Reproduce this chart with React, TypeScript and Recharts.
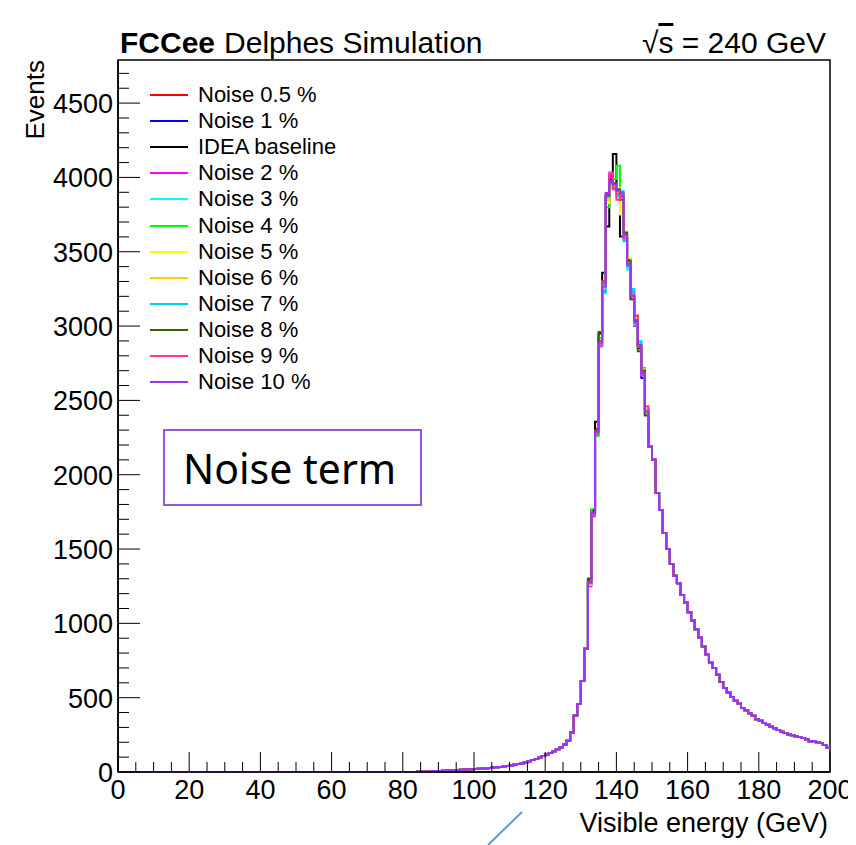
import { LineChart, Line, XAxis, YAxis, ReferenceArea } from "recharts";

// 1 GeV bins from 0 to 200
const binEdges = Array.from({ length: 201 }, (_, i) => i);

// shared part of all histograms (they overlap within a line width here)
const riseFirstBin = 84;
const riseCounts = [
  1, 2, 3, 4, 5, 6, 7, 8, 10, 11, 12, 14, 15, 17, 18, 19,
  21, 22, 24, 25, 27, 30, 32, 34, 37, 40, 44, 48, 53, 58, 64, 72,
  80, 88, 98, 108, 118, 128, 140, 153, 165, 185, 210, 265, 380, 458, 612, 830,
];
const peakFirstBin = 132;
const tailFirstBin = 149;
const tailCounts = [
  2189, 2100, 1877, 1763, 1608, 1500, 1400, 1320, 1270, 1190,
  1140, 1075, 1020, 960, 905, 845, 790, 735, 700, 655,
  605, 565, 535, 505, 480, 460, 430, 415, 395, 378,
  355, 345, 330, 318, 305, 295, 283, 270, 262, 252,
  248, 240, 235, 228, 220, 205, 208, 200, 195, 182,
  165,
];

// peak region, bins 132..148, one list per sample
const peakNoise05 = [1290, 1760, 2310, 2900, 3300, 3850, 4010, 3960, 3890, 3880, 3600, 3440, 3180, 3050, 2860, 2700, 2410];
const peakNoise1 = [1270, 1750, 2280, 2920, 3290, 3870, 3990, 3940, 3920, 3870, 3620, 3410, 3230, 3020, 2880, 2650, 2440];
const peakBaseline = [1300, 1760, 2357, 2950, 3358, 3670, 3980, 4157, 3910, 3602, 3590, 3450, 3190, 3070, 2850, 2690, 2400];
const peakNoise2 = [1250, 1720, 2270, 2870, 3240, 3880, 4020, 3930, 3890, 3880, 3630, 3400, 3210, 3000, 2890, 2670, 2430];
const peakNoise3 = [1260, 1730, 2300, 2860, 3220, 3860, 3950, 3960, 3870, 3910, 3580, 3380, 3240, 3010, 2900, 2700, 2440];
const peakNoise4 = [1280, 1770, 2260, 2920, 3280, 3800, 3960, 3990, 4078, 3880, 3610, 3430, 3200, 3040, 2870, 2720, 2420];
const peakNoise5 = [1270, 1740, 2280, 2880, 3270, 3828, 3940, 3950, 3930, 3750, 3640, 3460, 3190, 3050, 2880, 2690, 2410];
const peakNoise6 = [1260, 1730, 2290, 2890, 3250, 3850, 3970, 3940, 3900, 3860, 3600, 3420, 3220, 3060, 2860, 2710, 2450];
const peakNoise7 = [1275, 1745, 2295, 2870, 3230, 3870, 3960, 3920, 3880, 3890, 3570, 3400, 3250, 3010, 2890, 2680, 2430];
const peakNoise8 = [1300, 1741, 2300, 2960, 3300, 3880, 3970, 3960, 3920, 3850, 3630, 3440, 3180, 3040, 2830, 2700, 2400];
const peakNoise9 = [1270, 1730, 2280, 2870, 3300, 3890, 4033, 3920, 3850, 3880, 3590, 3410, 3210, 3070, 2860, 2670, 2460];
const peakNoise10 = [1278, 1741, 2290, 2887, 3266, 3896, 3973, 3950, 3910, 3900, 3610, 3420, 3200, 3030, 2873, 2685, 2425];

const series = [
  { key: "n05", name: "Noise 0.5 %", color: "#ff0000", peak: peakNoise05 },
  { key: "n1", name: "Noise 1 %", color: "#0000ff", peak: peakNoise1 },
  { key: "base", name: "IDEA baseline", color: "#000000", peak: peakBaseline },
  { key: "n2", name: "Noise 2 %", color: "#ff00ff", peak: peakNoise2 },
  { key: "n3", name: "Noise 3 %", color: "#00ffff", peak: peakNoise3 },
  { key: "n4", name: "Noise 4 %", color: "#00ff00", peak: peakNoise4 },
  { key: "n5", name: "Noise 5 %", color: "#ffff00", peak: peakNoise5 },
  { key: "n6", name: "Noise 6 %", color: "#ffcc00", peak: peakNoise6 },
  { key: "n7", name: "Noise 7 %", color: "#00ccff", peak: peakNoise7 },
  { key: "n8", name: "Noise 8 %", color: "#336600", peak: peakNoise8 },
  { key: "n9", name: "Noise 9 %", color: "#ff3399", peak: peakNoise9 },
  { key: "n10", name: "Noise 10 %", color: "#9933ff", peak: peakNoise10 },
];

const xTicks = Array.from({ length: 41 }, (_, i) => i * 5);
const yTicks = Array.from({ length: 48 }, (_, i) => i * 100);
const Y_MAX = 4790;

const countFor = (peak: number[], bin: number) => {
  if (bin < riseFirstBin) return 0;
  if (bin < peakFirstBin) return riseCounts[bin - riseFirstBin];
  if (bin < tailFirstBin) return peak[bin - peakFirstBin];
  return tailCounts[Math.min(bin, 199) - tailFirstBin];
};

const data = binEdges.map((e) => {
  const row: Record<string, number> = { e };
  series.forEach((s) => {
    row[s.key] = countFor(s.peak, e);
  });
  return row;
});

const FONT = "'Liberation Sans', Arial, sans-serif";

const XTick = (props: any) => {
  const { x, y, payload } = props;
  const major = payload.value % 20 === 0;
  return (
    <g>
      <line x1={x} y1={y} x2={x} y2={y - (major ? 20 : 10)} stroke="#000" strokeWidth={1} />
      {major && (
        <text x={x} y={y + 27} textAnchor="middle" fontSize={27} fontFamily={FONT} fill="#000">
          {payload.value}
        </text>
      )}
    </g>
  );
};

const YTick = (props: any) => {
  const { x, y, payload } = props;
  const major = payload.value % 500 === 0;
  return (
    <g>
      <line x1={x} y1={y} x2={x + (major ? 22 : 11)} y2={y} stroke="#000" strokeWidth={1} />
      {major && (
        <text x={x - 5} y={y + 10} textAnchor="end" fontSize={27} fontFamily={FONT} fill="#000">
          {payload.value}
        </text>
      )}
    </g>
  );
};

export default function App() {
  return (
    <div style={{ position: "relative", width: 848, height: 837, fontFamily: FONT, background: "#fff" }}>
      <LineChart width={848} height={830} data={data} margin={{ top: 52, right: 26, bottom: 36, left: 0 }}>
        <XAxis
          dataKey="e"
          type="number"
          domain={[0, 200]}
          ticks={xTicks}
          interval={0}
          tickSize={0}
          tickMargin={0}
          tickLine={false}
          tick={<XTick />}
          axisLine={{ stroke: "#000", strokeWidth: 1.5 }}
          height={30}
        />
        <YAxis
          type="number"
          domain={[0, Y_MAX]}
          ticks={yTicks}
          interval={0}
          tickSize={0}
          tickMargin={0}
          tickLine={false}
          tick={<YTick />}
          axisLine={{ stroke: "#000", strokeWidth: 1.5 }}
          width={110}
        />
        <ReferenceArea x1={0} x2={200} y1={0} y2={Y_MAX} fill="#fff" fillOpacity={0} stroke="#000" strokeWidth={1.5} />
        {series.map((s) => (
          <Line
            key={s.key}
            dataKey={s.key}
            name={s.name}
            type="stepAfter"
            stroke={s.color}
            strokeWidth={2}
            dot={false}
            activeDot={false}
            isAnimationActive={false}
          />
        ))}
      </LineChart>

      {/* title */}
      <div style={{ position: "absolute", left: 112, top: 18, fontSize: 30, whiteSpace: "nowrap" }}>
        <span style={{ fontWeight: "bold" }}>FCCee</span>
        <span style={{ marginLeft: 9 }}>Delphes Simulation</span>
      </div>
      <div style={{ position: "absolute", right: 30, top: 18, fontSize: 30, whiteSpace: "nowrap" }}>
        √<span style={{ textDecoration: "overline" }}>s</span> = 240 GeV
      </div>

      {/* axis titles */}
      <div
        style={{
          position: "absolute",
          left: 12,
          top: 52,
          fontSize: 26,
          whiteSpace: "nowrap",
          transform: "rotate(-90deg) translateX(-100%)",
          transformOrigin: "top left",
        }}
      >
        Events
      </div>
      <div style={{ position: "absolute", right: 28, top: 800, fontSize: 27, whiteSpace: "nowrap" }}>
        Visible energy (GeV)
      </div>

      {/* legend */}
      <div style={{ position: "absolute", left: 142, top: 74 }}>
        {series.map((s) => (
          <div key={s.key} style={{ display: "flex", alignItems: "center", height: 26.1 }}>
            <div style={{ width: 38, height: 2, background: s.color, marginRight: 10 }} />
            <span style={{ fontSize: 22, whiteSpace: "nowrap" }}>{s.name}</span>
          </div>
        ))}
      </div>

      {/* annotation box */}
      <div
        style={{
          position: "absolute",
          left: 155,
          top: 421,
          width: 259,
          height: 77,
          border: "2px solid #9955dd",
          boxSizing: "border-box",
          display: "flex",
          alignItems: "center",
          paddingLeft: 18,
          fontFamily: "'Noto Sans', sans-serif",
          fontSize: 41,
          background: "#fff",
        }}
      >
        Noise term
      </div>

      {/* stray slide arrow */}
      <svg style={{ position: "absolute", left: 476, top: 800 }} width={50} height={37}>
        <line x1={4} y1={37} x2={38} y2={4} stroke="#5b9bd5" strokeWidth={2} />
      </svg>
    </div>
  );
}
